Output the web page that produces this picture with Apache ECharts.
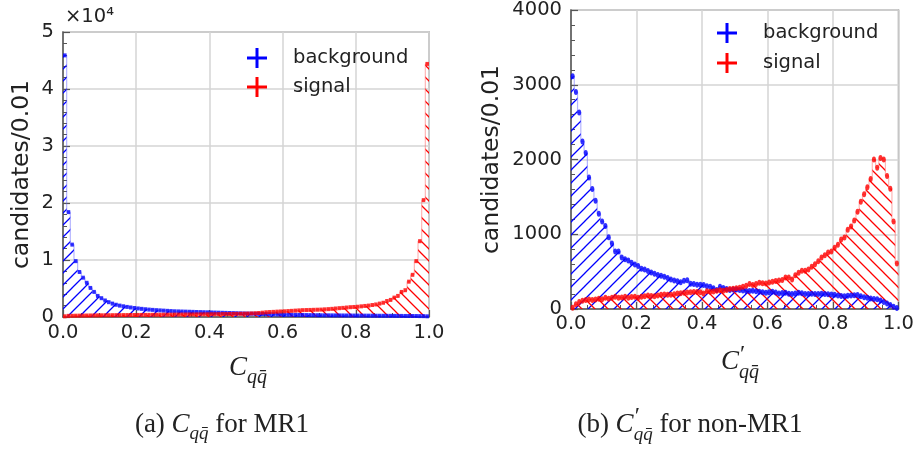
<!DOCTYPE html>
<html><head><meta charset="utf-8">
<script src="https://cdn.jsdelivr.net/npm/echarts@6/dist/echarts.min.js"></script>
<style>html,body{margin:0;padding:0;background:#fff}#c{width:917px;height:449px}</style>
</head><body><div id="c"></div>
<script>
// ---- data (bin width 0.01, 100 bins on [0,1]) ----
const xTicks = ['0.0','0.2','0.4','0.6','0.8','1.0'];
const leftYTicks = ['0','1','2','3','4','5'];
const rightYTicks = ['0','1000','2000','3000','4000'];
const legendNames = ['background', 'signal'];

const leftBackground = [
 45900,18400,12700,9800,7900,6900,6000,5100,4400,3700,
 3300,2900,2600,2350,2150,2000,1880,1770,1670,1580,
 1500,1430,1360,1300,1250,1200,1160,1120,1080,1040,
 1000,980,960,940,920,900,880,860,840,820,
 800,780,760,740,720,700,680,660,640,620,
 600,580,560,540,520,500,480,460,440,420,
 400,390,380,370,360,350,340,330,320,310,
 300,295,290,285,280,275,270,265,260,255,
 250,245,240,235,230,225,220,215,210,205,
 200,195,190,185,180,175,170,160,150,120];
const leftSignal = [
 120,200,215,230,240,250,260,270,280,290,
 298,305,312,318,324,330,336,342,348,354,
 360,366,372,378,384,390,396,402,408,414,
 420,426,432,438,444,450,456,462,468,474,
 480,490,500,510,520,530,540,550,562,575,
 600,630,660,700,760,830,870,900,940,970,
 1000,1040,1080,1120,1160,1200,1220,1240,1260,1280,
 1300,1340,1380,1430,1490,1550,1600,1660,1720,1760,
 1800,1870,1940,2000,2100,2200,2350,2500,2800,3000,
 3400,3700,4400,4700,6200,7400,9800,13300,20500,44400];
const rightBackground = [
 3115,2903,2630,2242,2088,1758,1604,1449,1273,1172,
 1110,960,877,770,770,690,665,650,620,595,
 575,540,530,510,489,470,455,445,430,414,
 395,380,370,357,378,383,339,335,326,326,
 320,304,298,276,253,298,280,267,253,262,
 262,253,248,240,242,244,238,231,225,218,
 225,231,220,209,213,218,205,200,208,218,
 210,200,200,205,200,200,205,200,198,195,
 190,180,175,172,176,180,185,187,170,156,
 150,142,135,130,115,95,75,55,30,15];
const rightSignal = [
 18,62,93,110,119,128,119,128,137,130,
 150,137,150,163,150,155,163,150,160,163,
 150,165,172,181,175,172,180,190,194,192,
 190,198,207,210,216,220,225,229,227,225,
 209,238,231,235,244,250,244,255,267,270,
 276,285,298,310,333,320,335,351,345,342,
 355,364,373,380,387,422,422,396,453,484,
 511,511,529,564,600,640,690,720,755,770,
 820,860,930,957,1060,1105,1185,1300,1435,1535,
 1630,1740,2000,1890,2020,2000,1780,1610,1170,610];
const binWidth = 0.01;

// ---- helpers ----
function hatch(color, dir, size, lw) {
  const c = document.createElement('canvas'); c.width = size; c.height = size;
  const g = c.getContext('2d'); g.strokeStyle = color; g.lineWidth = lw;
  g.beginPath();
  if (dir === '/') {
    g.moveTo(-2, size + 2); g.lineTo(size + 2, -2);
    g.moveTo(-2, 2); g.lineTo(2, -2);
    g.moveTo(size - 2, size + 2); g.lineTo(size + 2, size - 2);
  } else {
    g.moveTo(-2, -2); g.lineTo(size + 2, size + 2);
    g.moveTo(size - 2, -2); g.lineTo(size + 2, 2);
    g.moveTo(-2, size - 2); g.lineTo(2, size + 2);
  }
  g.stroke();
  return c;
}
function stepData(vals) {
  const d = vals.map((v, i) => [i * binWidth, v]);
  d.push([vals.length * binWidth, vals[vals.length - 1]]);
  return d;
}
function pointData(vals) { return vals.map((v, i) => [(i + 0.5) * binWidth, v]); }

const FONT = 'DejaVu Sans';
const SERIF = 'Liberation Serif';
const TXT = '#222';

const mctx = document.createElement('canvas').getContext('2d');
function fontStr(p) { return (p.italic ? 'italic ' : '') + p.size + 'px "' + (p.family || SERIF) + '"'; }
function layoutText(pieces, x, baseline, center) {
  let w = 0;
  const ws = pieces.map(p => {
    mctx.font = fontStr(p);
    const adv = p.adv !== undefined ? p.adv : mctx.measureText(p.t).width;
    w += adv; return adv;
  });
  let cx = center ? x - w / 2 : x;
  const out = [];
  pieces.forEach((p, i) => {
    out.push({ type: 'text', z: 100, x: cx + (p.dx || 0), y: baseline + (p.dy || 0) - 0.33 * p.size, silent: true,
      style: { text: p.t, font: fontStr(p), fill: TXT, textAlign: 'left', textVerticalAlign: 'middle', align: 'left', verticalAlign: 'middle' } });
    cx += ws[i];
  });
  return out;
}

function xAxisCfg(gridIndex, labelMargin) {
  return {
    gridIndex, type: 'value', min: 0, max: 1, interval: 0.2,
    axisLine: { show: true, lineStyle: { color: '#555', width: 1.5 } },
    axisTick: { show: true, inside: true, length: 7, lineStyle: { color: '#555', width: 1.2 } },
    minorTick: { show: true, splitNumber: 4, length: 4, lineStyle: { color: '#555', width: 1 } },
    axisLabel: { margin: labelMargin, fontFamily: FONT, fontSize: 19.5, color: TXT,
      formatter: (v, idx) => xTicks[idx] },
    splitLine: { show: true, lineStyle: { color: '#d4d4d4', width: 1.5 } }
  };
}
function yAxisCfg(gridIndex, max, interval, ticks, nameGap) {
  return {
    gridIndex, type: 'value', min: 0, max, interval,
    axisLine: { show: true, lineStyle: { color: '#555', width: 1.5 } },
    axisTick: { show: true, inside: true, length: 7, lineStyle: { color: '#555', width: 1.2 } },
    minorTick: { show: true, splitNumber: 5, length: 4, lineStyle: { color: '#555', width: 1 } },
    axisLabel: { margin: 9, fontFamily: FONT, fontSize: 19.5, color: TXT,
      formatter: (v, idx) => ticks[idx] },
    splitLine: { show: true, lineStyle: { color: '#d4d4d4', width: 1.5 } },
    name: 'candidates/0.01', nameLocation: 'middle', nameRotate: 90, nameGap,
    nameTextStyle: { fontFamily: FONT, fontSize: 23.5, color: TXT }
  };
}
function histSeries(name, xi, vals, color, lineColor, dir, size) {
  return {
    type: 'line', name, xAxisIndex: xi, yAxisIndex: xi, step: 'end', symbol: 'none', silent: true,
    lineStyle: { color: lineColor, width: 1.2 },
    areaStyle: { color: { image: hatch(color, dir, size, 1.3), repeat: 'repeat' }, opacity: 1 },
    data: stepData(vals), z: 2
  };
}
function pointSeries(name, xi, vals, color, symbol, size) {
  return {
    type: 'scatter', name, xAxisIndex: xi, yAxisIndex: xi, symbol, symbolSize: size,
    itemStyle: { color }, data: pointData(vals), z: 5
  };
}
function legendGraphic(cx, cy, gap, textX) {
  const colors = ['#0000ff', '#ff0000'];
  const out = [];
  legendNames.forEach((nm, k) => {
    const y = cy + k * gap;
    out.push({ type: 'rect', z: 100, silent: true, shape: { x: cx - 10, y: y - 1.5, width: 20, height: 3 }, style: { fill: colors[k] } });
    out.push({ type: 'rect', z: 100, silent: true, shape: { x: cx - 1.5, y: y - 10, width: 3, height: 20 }, style: { fill: colors[k] } });
    out.push({ type: 'text', z: 100, silent: true, x: textX, y: y,
      style: { text: nm, font: '19.5px "DejaVu Sans"', fill: TXT, textAlign: 'left', textVerticalAlign: 'middle', align: 'left', verticalAlign: 'middle' } });
  });
  return out;
}

const graphics = [].concat(
  [{ type: 'text', z: 100, x: 65, y: 17, silent: true,
     style: { text: '\u00d710\u2074', font: '19.5px "DejaVu Sans"', fill: TXT, textAlign: 'left', textVerticalAlign: 'middle', align: 'left', verticalAlign: 'middle' } }],
  legendGraphic(257, 58, 29, 293),
  legendGraphic(727, 33, 30, 763),
  // axis titles
  layoutText([{ t: 'C', size: 27, italic: true }, { t: 'qq\u0304', size: 20, italic: true, dy: 7 }], 248, 377, true),
  layoutText([{ t: 'C', size: 27, italic: true }, { t: '\u2032', size: 24, adv: 0, dx: 1, dy: -8 },
              { t: 'qq\u0304', size: 20, italic: true, dy: 8 }], 740, 371, true),
  // captions
  layoutText([{ t: '(a) ', size: 27 }, { t: 'C', size: 27, italic: true }, { t: 'qq\u0304', size: 19, italic: true, dy: 6 },
              { t: ' for MR1', size: 27 }], 222, 434, true),
  layoutText([{ t: '(b) ', size: 27 }, { t: 'C', size: 27, italic: true }, { t: '\u2032', size: 24, adv: 0, dx: 1, dy: -9 },
              { t: 'qq\u0304', size: 19, italic: true, dy: 7 }, { t: ' for non-MR1', size: 27 }], 690, 434, true)
);

const chart = echarts.init(document.getElementById('c'), null, { renderer: 'canvas' });
chart.setOption({
  animation: false,
  backgroundColor: '#fff',
  grid: [
    { left: 63, top: 32, width: 366, height: 285, show: true, borderColor: '#9a9a9a', borderWidth: 1.5, backgroundColor: 'transparent' },
    { left: 571, top: 7, width: 329, height: 302, show: true, borderColor: '#9a9a9a', borderWidth: 1.5, backgroundColor: 'transparent' }
  ],
  xAxis: [xAxisCfg(0, 6), xAxisCfg(1, 5)],
  yAxis: [
    yAxisCfg(0, 50000, 10000, leftYTicks, 29),
    yAxisCfg(1, 4000, 1000, rightYTicks, 67)
  ],
  series: [
    histSeries('bgHistL', 0, leftBackground, '#0000ff', 'rgba(90,90,255,0.45)', '/', 12),
    histSeries('sigHistL', 0, leftSignal, '#ff0000', 'rgba(255,90,90,0.45)', '\\', 12),
    pointSeries('background', 0, leftBackground, '#0000ff', 'rect', [3.5, 4]),
    pointSeries('signal', 0, leftSignal, '#ff0000', 'rect', [3.5, 4]),
    histSeries('bgHistR', 1, rightBackground, '#0000ff', 'rgba(90,90,255,0.45)', '/', 13),
    histSeries('sigHistR', 1, rightSignal, '#ff0000', 'rgba(255,90,90,0.45)', '\\', 13),
    pointSeries('background', 1, rightBackground, '#0000ff', 'circle', [4, 6]),
    pointSeries('signal', 1, rightSignal, '#ff0000', 'circle', [4, 6])
  ],
  graphic: graphics
});
</script></body></html>
